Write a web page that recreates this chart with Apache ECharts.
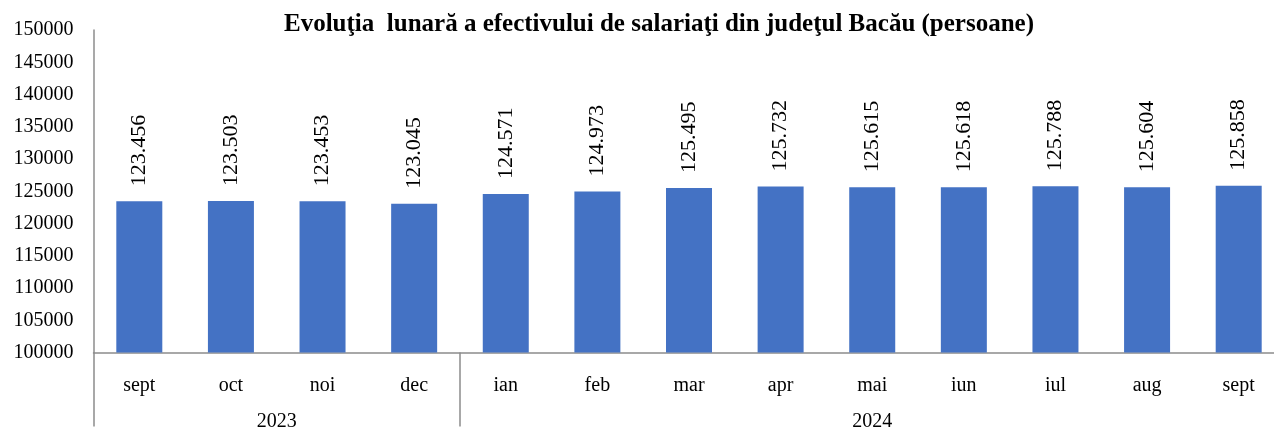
<!DOCTYPE html>
<html>
<head>
<meta charset="utf-8">
<script src="https://cdn.jsdelivr.net/npm/echarts@6/dist/echarts.min.js"></script>
<style>html,body{margin:0;padding:0;background:#fff}#c{width:1274px;height:427px}</style>
</head>
<body>
<div id="c"></div>
<script>
const months = ['sept','oct','noi','dec','ian','feb','mar','apr','mai','iun','iul','aug','sept'];
const years = ['2023','2024'];
const yearCenters = [2, 8.5];      // in month units along the axis
const yearBoundaries = [0, 4];     // category index where each year starts
const values = [123456,123503,123453,123045,124571,124973,125495,125732,125615,125618,125788,125604,125858];
const titleText = 'Evoluţia  lunară a efectivului de salariaţi din judeţul Bacău (persoane)';

const FONT = '"Liberation Serif", "Times New Roman", serif';
const GREY = '#8c8c8c';
const chart = echarts.init(document.getElementById('c'));
chart.setOption({
  animation: false,
  title: {
    text: titleText, left: 654, top: 7, textAlign: 'center',
    textStyle: {fontFamily: FONT, fontWeight: 'bold', fontSize: 25, color: '#000'}
  },
  grid: {left: 93.5, top: 30, width: 1191, bottom: 74.5, containLabel: false, outerBoundsMode: 'none'},
  xAxis: [{
    type: 'category', data: months, position: 'bottom',
    axisLine: {show: true, lineStyle: {color: GREY, width: 1.5}},
    axisTick: {show: true, length: 74, interval: (i) => yearBoundaries.includes(i), lineStyle: {color: GREY, width: 1.5}},
    axisLabel: {fontFamily: FONT, fontSize: 20, color: '#000', margin: 23, interval: 0}
  }, {
    type: 'value', min: 0, max: 13, interval: 0.5, position: 'bottom',
    axisLine: {show: false}, axisTick: {show: false}, splitLine: {show: false},
    axisLabel: {
      fontFamily: FONT, fontSize: 20, color: '#000', margin: 59, showMinLabel: true, showMaxLabel: true,
      formatter: (v) => { const k = yearCenters.indexOf(v); return k >= 0 ? years[k] : ''; }
    }
  }],
  yAxis: {
    type: 'value', min: 100000, max: 150000, interval: 5000,
    axisLine: {show: true, lineStyle: {color: GREY, width: 1.5}},
    axisTick: {show: false}, splitLine: {show: false},
    axisLabel: {fontFamily: FONT, fontSize: 20, color: '#000', margin: 20, formatter: (v) => String(v)}
  },
  series: [{
    type: 'bar', data: values, xAxisIndex: 0, barWidth: 46,
    itemStyle: {color: '#4472C4'},
    label: {
      show: true, position: 'top', rotate: 90, distance: 15, align: 'left', verticalAlign: 'middle',
      fontFamily: FONT, fontSize: 22, color: '#000',
      formatter: (p) => echarts.format.addCommas(p.value).replace(/,/g, '.')
    }
  }]
});
</script>
</body>
</html>
